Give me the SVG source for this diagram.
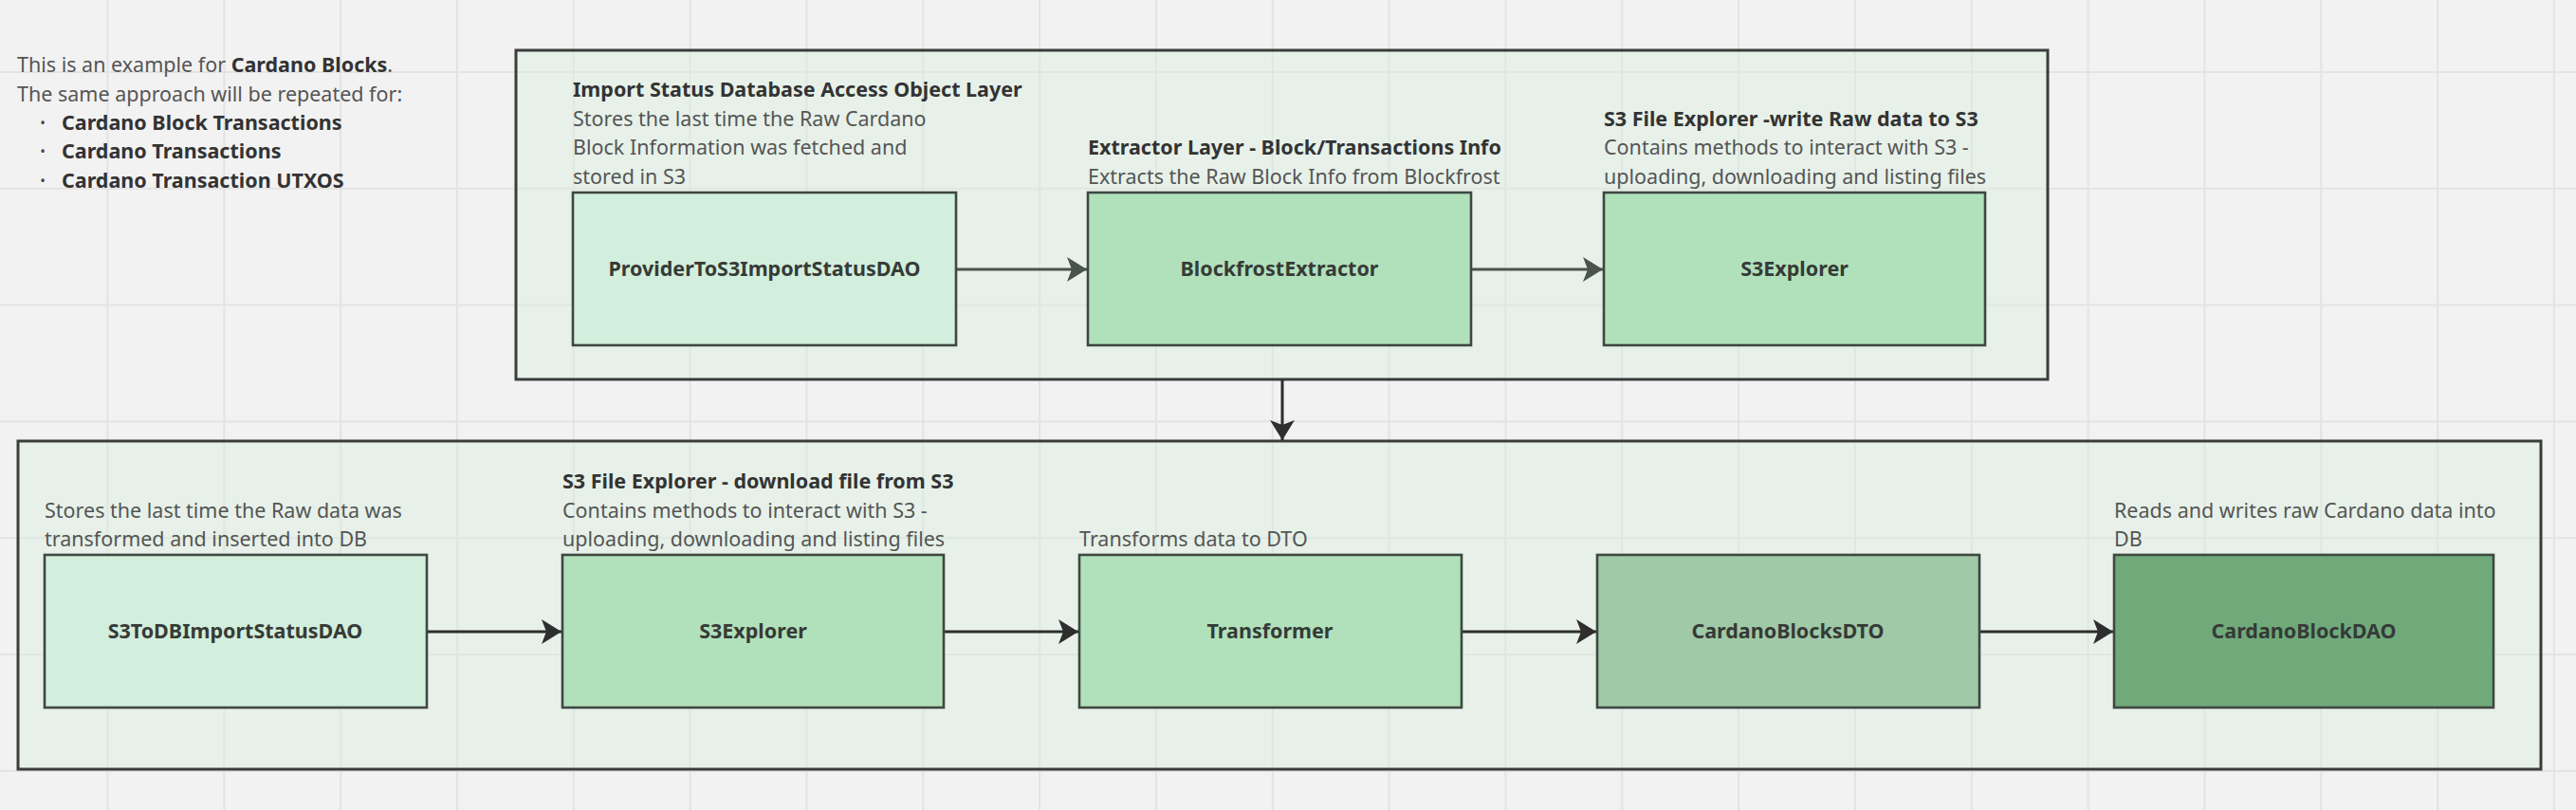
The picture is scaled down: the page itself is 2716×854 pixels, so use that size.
<svg xmlns="http://www.w3.org/2000/svg" width="2716" height="854" viewBox="0 0 2716 854">
<style>
text{font-family:"Noto Sans","Open Sans","Liberation Sans",sans-serif;font-size:21.5px}
.t{fill:#555555}
.b{fill:#333333;font-weight:700}
.dot{fill:#444444;font-size:15px;text-anchor:middle}
.lbl{fill:#363a37;font-weight:700;text-anchor:middle}
.frame{fill:#d6efdb;fill-opacity:0.4;stroke:#3a3d3b;stroke-width:3}
.node{stroke:#3f4742;stroke-width:2.6}
.c1{fill:#d2eedc}
.c2{fill:#b1e1bb}
.c3{fill:#a0c9a7}
.c4{fill:#70aa7b}
.edge{fill:none;stroke-width:3}
.top{stroke:#4a544d}
.bot{stroke:#2e2e2e}
</style>
<defs>
<pattern id="grid" x="112.5" y="75" width="122.83" height="122.8" patternUnits="userSpaceOnUse">
<path d="M1,0 V122.8 M0,1 H122.83" stroke="#e3e3e3" stroke-width="2" fill="none"/>
</pattern>
<marker id="ah1" markerUnits="userSpaceOnUse" markerWidth="24" markerHeight="28" refX="21" refY="13" orient="auto" viewBox="0 0 24 28">
<path d="M0,0 L21,13 L0,26 L5,13 Z" fill="#4a544d"/>
</marker>
<marker id="ah2" markerUnits="userSpaceOnUse" markerWidth="24" markerHeight="28" refX="21" refY="13" orient="auto" viewBox="0 0 24 28">
<path d="M0,0 L21,13 L0,26 L5,13 Z" fill="#2e2e2e"/>
</marker>
</defs>
<rect x="0" y="0" width="2716" height="854" fill="#f2f2f2"/>
<rect x="0" y="0" width="2716" height="854" fill="url(#grid)"/>

<g id="intro">
<text x="18" y="76" class="t">This is an example for <tspan class="b">Cardano Blocks</tspan>.</text>
<text x="18" y="107" class="t">The same approach will be repeated for:</text>
<text x="45" y="135" class="dot">•</text><text x="65" y="137" class="b">Cardano Block Transactions</text>
<text x="45" y="165" class="dot">•</text><text x="65" y="167" class="b">Cardano Transactions</text>
<text x="45" y="196" class="dot">•</text><text x="65" y="198" class="b">Cardano Transaction UTXOS</text>
</g>

<g id="extract-layer">
<rect class="frame" x="544" y="53" width="1615" height="347"/>
</g>
<g id="load-layer">
<rect class="frame" x="19" y="465" width="2660" height="346"/>
</g>

<g id="connectors">
<line class="edge top" x1="1008" y1="284" x2="1146" y2="284" marker-end="url(#ah1)"/>
<line class="edge top" x1="1551" y1="284" x2="1690" y2="284" marker-end="url(#ah1)"/>
<line class="edge bot" x1="1352" y1="400" x2="1352" y2="464" marker-end="url(#ah2)"/>
<line class="edge bot" x1="450" y1="666" x2="592" y2="666" marker-end="url(#ah2)"/>
<line class="edge bot" x1="995" y1="666" x2="1137" y2="666" marker-end="url(#ah2)"/>
<line class="edge bot" x1="1541" y1="666" x2="1683" y2="666" marker-end="url(#ah2)"/>
<line class="edge bot" x1="2087" y1="666" x2="2228" y2="666" marker-end="url(#ah2)"/>
</g>

<g id="provider-to-s3-import-status-dao">
<text x="604" y="102" class="b">Import Status Database Access Object Layer</text>
<text x="604" y="133" class="t">Stores the last time the Raw Cardano</text>
<text x="604" y="163" class="t">Block Information was fetched and</text>
<text x="604" y="194" class="t">stored in S3</text>
<rect class="node c1" x="604" y="203" width="404" height="161"/>
<text x="806" y="291" class="lbl">ProviderToS3ImportStatusDAO</text>
</g>

<g id="blockfrost-extractor">
<text x="1147" y="163" class="b">Extractor Layer - Block/Transactions Info</text>
<text x="1147" y="194" class="t">Extracts the Raw Block Info from Blockfrost</text>
<rect class="node c2" x="1147" y="203" width="404" height="161"/>
<text x="1349" y="291" class="lbl">BlockfrostExtractor</text>
</g>

<g id="s3-explorer-write">
<text x="1691" y="133" class="b">S3 File Explorer -write Raw data to S3</text>
<text x="1691" y="163" class="t">Contains methods to interact with S3 -</text>
<text x="1691" y="194" class="t">uploading, downloading and listing files</text>
<rect class="node c2" x="1691" y="203" width="402" height="161"/>
<text x="1892" y="291" class="lbl">S3Explorer</text>
</g>

<g id="s3-to-db-import-status-dao">
<text x="47" y="546" class="t">Stores the last time the Raw data was</text>
<text x="47" y="576" class="t">transformed and inserted into DB</text>
<rect class="node c1" x="47" y="585" width="403" height="161"/>
<text x="248" y="673" class="lbl">S3ToDBImportStatusDAO</text>
</g>

<g id="s3-explorer-download">
<text x="593" y="515" class="b">S3 File Explorer - download file from S3</text>
<text x="593" y="546" class="t">Contains methods to interact with S3 -</text>
<text x="593" y="576" class="t">uploading, downloading and listing files</text>
<rect class="node c2" x="593" y="585" width="402" height="161"/>
<text x="794" y="673" class="lbl">S3Explorer</text>
</g>

<g id="transformer">
<text x="1138" y="576" class="t">Transforms data to DTO</text>
<rect class="node c2" x="1138" y="585" width="403" height="161"/>
<text x="1339" y="673" class="lbl">Transformer</text>
</g>

<g id="cardano-blocks-dto">
<rect class="node c3" x="1684" y="585" width="403" height="161"/>
<text x="1885" y="673" class="lbl">CardanoBlocksDTO</text>
</g>

<g id="cardano-block-dao">
<text x="2229" y="546" class="t">Reads and writes raw Cardano data into</text>
<text x="2229" y="576" class="t">DB</text>
<rect class="node c4" x="2229" y="585" width="400" height="161"/>
<text x="2429" y="673" class="lbl">CardanoBlockDAO</text>
</g>
</svg>
